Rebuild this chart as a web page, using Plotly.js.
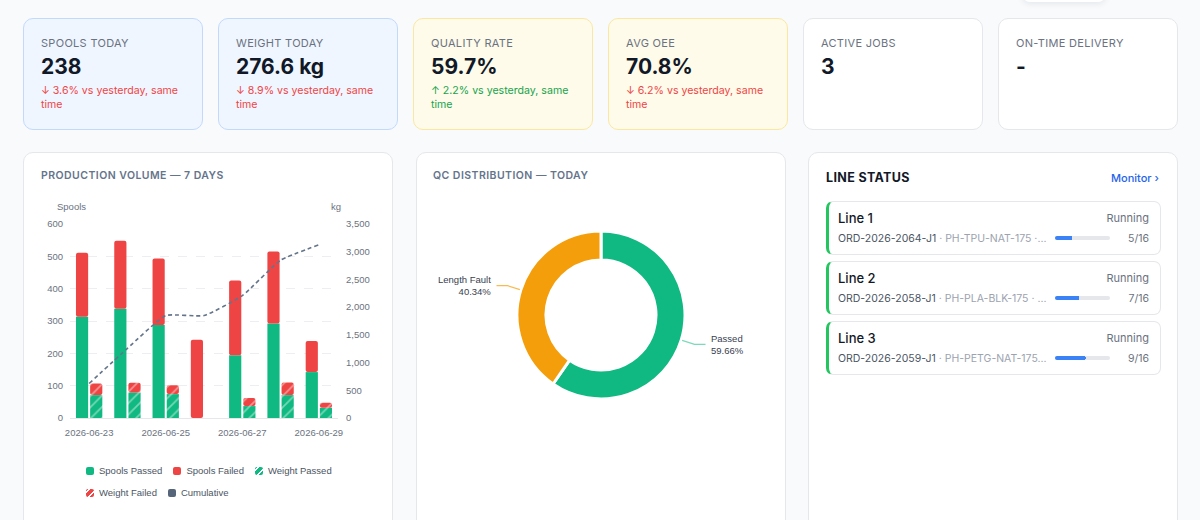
<!DOCTYPE html>
<html>
<head>
<meta charset="utf-8">
<script src="https://cdn.plot.ly/plotly-3.0.1.min.js"></script>
<style>
  html, body { margin:0; padding:0; }
  body { width:1200px; height:520px; overflow:hidden; background:#f8fafc; font-family: Inter, "Noto Sans", sans-serif; position:relative; }
  .card { position:absolute; top:18px; width:180px; height:112px; box-sizing:border-box; border-radius:10px; border:1px solid #e5e7eb; background:#fff; }
  .card.blue { background:#eff6ff; border-color:#c3d9fc; }
  .card.yellow { background:#fefbea; border-color:#fce7a0; }
  .klabel { position:absolute; top:17px; left:17px; font-size:11px; letter-spacing:0.3px; color:#6b7280; line-height:14px; white-space:nowrap; }
  .kvalue { position:absolute; top:34px; left:17px; font-size:21px; font-weight:700; color:#111827; line-height:28px; white-space:nowrap; }
  .kdelta { position:absolute; top:65px; left:17px; width:146px; font-size:10.6px; line-height:14px; }
  .down { color:#ef4444; } .up { color:#16a34a; }
  .panel { position:absolute; top:152px; height:400px; box-sizing:border-box; border-radius:10px; border:1px solid #e5e7eb; background:#fff; }
  .ptitle { position:absolute; top:169px; font-size:10.5px; font-weight:600; letter-spacing:0.45px; color:#64748b; line-height:14px; white-space:nowrap; }
  .row { position:absolute; left:826px; width:335px; height:54px; box-sizing:border-box; border:1px solid #e5e7eb; border-left:3px solid #22c55e; border-radius:7px; background:#fff; }
  .rname { position:absolute; left:9px; top:8px; font-size:13px; font-weight:500; color:#111827; line-height:16px; }
  .rstat { position:absolute; right:11px; top:8px; font-size:11px; color:#6b7280; line-height:16px; }
  .rjob { position:absolute; left:9px; top:30px; font-size:10.5px; line-height:14px; color:#4b5563; white-space:nowrap; }
  .rjob span { color:#9ca3af; }
  .track { position:absolute; left:226px; top:34px; width:55px; height:4px; border-radius:2px; background:#e5e7eb; overflow:hidden; }
  .track > div { margin-top:-3px; }
  .rfrac { position:absolute; right:11px; top:30px; font-size:10.5px; color:#6b7280; line-height:14px; }
  .legend { position:absolute; left:86px; top:464px; width:265px; display:flex; flex-wrap:wrap; column-gap:11px; row-gap:8px;
            font-family:"Liberation Sans", Arial, sans-serif; font-size:9.5px; color:#4b5563; line-height:14px; }
  .li { display:flex; align-items:center; white-space:nowrap; }
  .sw { width:8px; height:8px; border-radius:2px; margin-right:5px; }
</style>
</head>
<body>
<div style="position:absolute; left:1022px; top:-36px; width:84px; height:38px; border-radius:8px; background:#fff; box-shadow:0 2px 6px rgba(15,23,42,0.08);"></div>

<div id="kpis"></div>

<div class="panel" style="left:23px; width:370px;"></div>
<div class="ptitle" style="left:41px;">PRODUCTION VOLUME — 7 DAYS</div>
<div id="prod" style="position:absolute; left:23px; top:190px; width:370px; height:330px;"></div>
<div class="legend" id="prodLegend"></div>

<div class="panel" style="left:416px; width:370px;"></div>
<div class="ptitle" style="left:433px;">QC DISTRIBUTION — TODAY</div>
<div id="qc" style="position:absolute; left:416px; top:190px; width:370px; height:250px;"></div>

<div class="panel" style="left:808px; width:370px;"></div>
<div style="position:absolute; left:826px; top:170px; font-size:12.5px; font-weight:700; letter-spacing:0.35px; color:#111827; line-height:16px;">LINE STATUS</div>
<div style="position:absolute; left:1111px; top:170px; font-size:11px; font-weight:500; color:#2563eb; line-height:16px;">Monitor ›</div>
<div id="lines"></div>

<script>
// ---------- KPI cards ----------
const kpiLabels = ['SPOOLS TODAY', 'WEIGHT TODAY', 'QUALITY RATE', 'AVG OEE', 'ACTIVE JOBS', 'ON-TIME DELIVERY'];
const kpiValues = ['238', '276.6 kg', '59.7%', '70.8%', '3', '-'];
const kpiDeltas = ['↓ 3.6% vs yesterday, same time', '↓ 8.9% vs yesterday, same time', '↑ 2.2% vs yesterday, same time', '↓ 6.2% vs yesterday, same time', '', ''];
const kpiDeltaDir = ['down', 'down', 'up', 'down', '', ''];
const kpiTone = ['blue', 'blue', 'yellow', 'yellow', '', ''];

// ---------- Production volume (7 days) ----------
const dates = ['2026-06-23', '2026-06-24', '2026-06-25', '2026-06-26', '2026-06-27', '2026-06-28', '2026-06-29'];
const dateTicks = ['2026-06-23', '2026-06-25', '2026-06-27', '2026-06-29'];
const spoolsPassed = [313, 338, 288, 0, 194, 292, 142];
const spoolsFailed = [198, 210, 205, 242, 231, 223, 96];
const weightPassed = [413, 461, 431, 0, 215, 413, 184];
const weightFailed = [209, 173, 161, 0, 144, 227, 92.6];
const cumulativeKg = [622, 1256, 1848, 1848, 2207, 2847, 3124];
const seriesNames = ['Spools Passed', 'Spools Failed', 'Weight Passed', 'Weight Failed', 'Cumulative'];

// ---------- QC distribution ----------
const qcLabels = ['Passed', 'Length Fault'];
const qcValues = [142, 96];

// ---------- Line status ----------
const lineNames = ['Line 1', 'Line 2', 'Line 3'];
const lineStatus = ['Running', 'Running', 'Running'];
const lineOrders = ['ORD-2026-2064-J1', 'ORD-2026-2058-J1', 'ORD-2026-2059-J1'];
const lineProducts = ['PH-TPU-NAT-175 ·...', 'PH-PLA-BLK-175 · ...', 'PH-PETG-NAT-175...'];
const lineDone = [5, 7, 9];
const lineTotal = [16, 16, 16];

const GREEN = '#10b981', RED = '#ef4444', ORANGE = '#f59e0b', SLATE = '#64748b';
const CHART_FONT = '"Liberation Sans", Arial, sans-serif';

// KPI cards
const kpiBox = document.getElementById('kpis');
kpiLabels.forEach((lab, i) => {
  const c = document.createElement('div');
  c.className = 'card ' + kpiTone[i];
  c.style.left = (23 + i * 195) + 'px';
  c.innerHTML = '<div class="klabel">' + lab + '</div><div class="kvalue">' + kpiValues[i] + '</div>' +
    (kpiDeltas[i] ? '<div class="kdelta ' + kpiDeltaDir[i] + '">' + kpiDeltas[i] + '</div>' : '');
  kpiBox.appendChild(c);
});

// Production chart
const hatchG = { shape: '/', bgcolor: GREEN, fgcolor: '#ffffff', fgopacity: 0.42, size: 8, solidity: 0.22, fillmode: 'replace' };
const hatchR = { shape: '/', bgcolor: RED, fgcolor: '#ffffff', fgopacity: 0.42, size: 8, solidity: 0.22, fillmode: 'replace' };
const prodTraces = [
  { type: 'bar', name: seriesNames[0], x: dates, y: spoolsPassed, offsetgroup: 1,
    marker: { color: GREEN } },
  { type: 'bar', name: seriesNames[1], x: dates, y: spoolsFailed, base: spoolsPassed, offsetgroup: 1,
    marker: { color: RED, cornerradius: 2 } },
  { type: 'bar', name: seriesNames[2], x: dates, y: weightPassed, yaxis: 'y2', offsetgroup: 2,
    marker: { color: GREEN, pattern: hatchG } },
  { type: 'bar', name: seriesNames[3], x: dates, y: weightFailed, base: weightPassed, yaxis: 'y2', offsetgroup: 2,
    marker: { color: RED, cornerradius: 2, pattern: hatchR } },
  { type: 'scatter', mode: 'lines', name: seriesNames[4], x: dates, y: cumulativeKg, yaxis: 'y2',
    line: { color: SLATE, width: 1.6, dash: '4px,3px', shape: 'spline', smoothing: 0.45 } }
];
const tickFont = { family: CHART_FONT, size: 9.5, color: '#6b7280' };
Plotly.newPlot('prod', prodTraces, {
  width: 370, height: 330,
  margin: { l: 47, r: 55, t: 34, b: 102 },
  paper_bgcolor: 'rgba(0,0,0,0)', plot_bgcolor: 'rgba(0,0,0,0)',
  barmode: 'group', bargap: 0.26, bargroupgap: 0.14,
  font: { family: CHART_FONT, size: 9.5, color: '#4b5563' },
  showlegend: false,
  xaxis: { type: 'category', tickmode: 'array', tickvals: dateTicks, ticktext: dateTicks, tickfont: tickFont,
    showgrid: false, showline: true, linecolor: '#e5e7eb', ticks: '', ticklabelstandoff: 6, fixedrange: true, automargin: false },
  yaxis: { range: [0, 600], dtick: 100, tickfont: tickFont, gridcolor: '#eceef1', griddash: 'dash', zeroline: false,
    showline: false, ticks: '', ticklabelstandoff: 6, fixedrange: true, automargin: false },
  yaxis2: { range: [0, 3500], dtick: 500, tickformat: ',d', tickfont: tickFont, overlaying: 'y', side: 'right',
    showgrid: false, zeroline: false, ticks: '', ticklabelstandoff: 7, fixedrange: true, automargin: false },
  annotations: [
    { text: 'Spools', xref: 'paper', yref: 'paper', x: 0, y: 1, xanchor: 'left', yanchor: 'middle', xshift: -15, yshift: 18,
      showarrow: false, font: { family: CHART_FONT, size: 9.5, color: '#6b7280' } },
    { text: 'kg', xref: 'paper', yref: 'paper', x: 1, y: 1, xanchor: 'right', yanchor: 'middle', xshift: 5, yshift: 18,
      showarrow: false, font: { family: CHART_FONT, size: 9.5, color: '#6b7280' } }
  ]
}, { displayModeBar: false, staticPlot: true });

// legend for production chart (matches the trace styles)
const hatchCss = (c) => 'repeating-linear-gradient(135deg, ' + c + ' 0 2px, rgba(255,255,255,0.55) 2px 3px, ' + c + ' 3px 5px)';
const swatchBg = [GREEN, RED, hatchCss(GREEN), hatchCss(RED), '#56657a'];
const lg = document.getElementById('prodLegend');
seriesNames.forEach((n, i) => {
  const it = document.createElement('div');
  it.className = 'li';
  it.innerHTML = '<div class="sw" style="background:' + swatchBg[i] + '"></div><span>' + n + '</span>';
  lg.appendChild(it);
});

// QC donut
const qcW = 370, qcH = 250, qcT = 41, qcB = 41;
const qcPlotH = qcH - qcT - qcB;
const total = qcValues.reduce((a, b) => a + b, 0);
const qcColors = [GREEN, ORANGE];
const qcLineColors = ['rgba(16,185,129,0.55)', 'rgba(245,158,11,0.7)'];
const shapes = [], annos = [];
let acc = 0;
qcValues.forEach((v, i) => {
  const mid = (acc + v / 2) / total * 2 * Math.PI; // clockwise from top
  acc += v;
  const R = qcPlotH / 2; // px
  const sx = Math.sin(mid), sy = Math.cos(mid);
  const px = (r) => 0.5 + r * sx / qcW;
  const py = (r) => 0.5 + r * sy / qcPlotH;
  const dir = sx >= 0 ? 1 : -1;
  const x0 = px(R + 1), y0 = py(R + 1);
  const x1 = px(R + 14), y1 = py(R + 14);
  const x2 = x1 + dir * 11 / qcW;
  shapes.push({ type: 'path', xref: 'paper', yref: 'paper',
    path: `M${x0},${y0} L${x1},${y1} L${x2},${y1}`, line: { color: qcLineColors[i], width: 1.2 } });
  annos.push({ xref: 'paper', yref: 'paper', x: x2, y: y1, xanchor: dir > 0 ? 'left' : 'right', yanchor: 'middle',
    xshift: dir * 3, align: dir > 0 ? 'left' : 'right', showarrow: false,
    text: qcLabels[i] + '<br>' + (v / total * 100).toFixed(2) + '%',
    font: { family: CHART_FONT, size: 9.5, color: '#374151' } });
});
Plotly.newPlot('qc', [{
  type: 'pie', labels: qcLabels, values: qcValues, hole: 0.655, sort: false, direction: 'clockwise', rotation: 0,
  marker: { colors: qcColors, line: { color: '#ffffff', width: 3 } }, textinfo: 'none', hoverinfo: 'none'
}], {
  width: qcW, height: qcH, margin: { l: 0, r: 0, t: qcT, b: qcB }, showlegend: false,
  paper_bgcolor: 'rgba(0,0,0,0)', shapes: shapes, annotations: annos
}, { displayModeBar: false, staticPlot: true });

// Line status rows
const linesBox = document.getElementById('lines');
lineNames.forEach((n, i) => {
  const r = document.createElement('div');
  r.className = 'row';
  r.style.top = [201, 261, 321][i] + 'px';
  r.innerHTML = '<div class="rname">' + n + '</div><div class="rstat">' + lineStatus[i] + '</div>' +
    '<div class="rjob">' + lineOrders[i] + '<span> · ' + lineProducts[i] + '</span></div>' +
    '<div class="track"><div id="pb' + i + '"></div></div>' +
    '<div class="rfrac">' + lineDone[i] + '/' + lineTotal[i] + '</div>';
  linesBox.appendChild(r);
  Plotly.newPlot('pb' + i, [{ type: 'bar', orientation: 'h', x: [lineDone[i]], y: ['p'], marker: { color: '#3b82f6', cornerradius: 2 }, hoverinfo: 'none' }], {
    width: 55, height: 10, margin: { l: 0, r: 0, t: 3, b: 3 }, bargap: 0, showlegend: false,
    paper_bgcolor: 'rgba(0,0,0,0)', plot_bgcolor: 'rgba(0,0,0,0)',
    xaxis: { range: [0, lineTotal[i]], visible: false, fixedrange: true },
    yaxis: { visible: false, fixedrange: true }
  }, { displayModeBar: false, staticPlot: true });
});
</script>
</body>
</html>
